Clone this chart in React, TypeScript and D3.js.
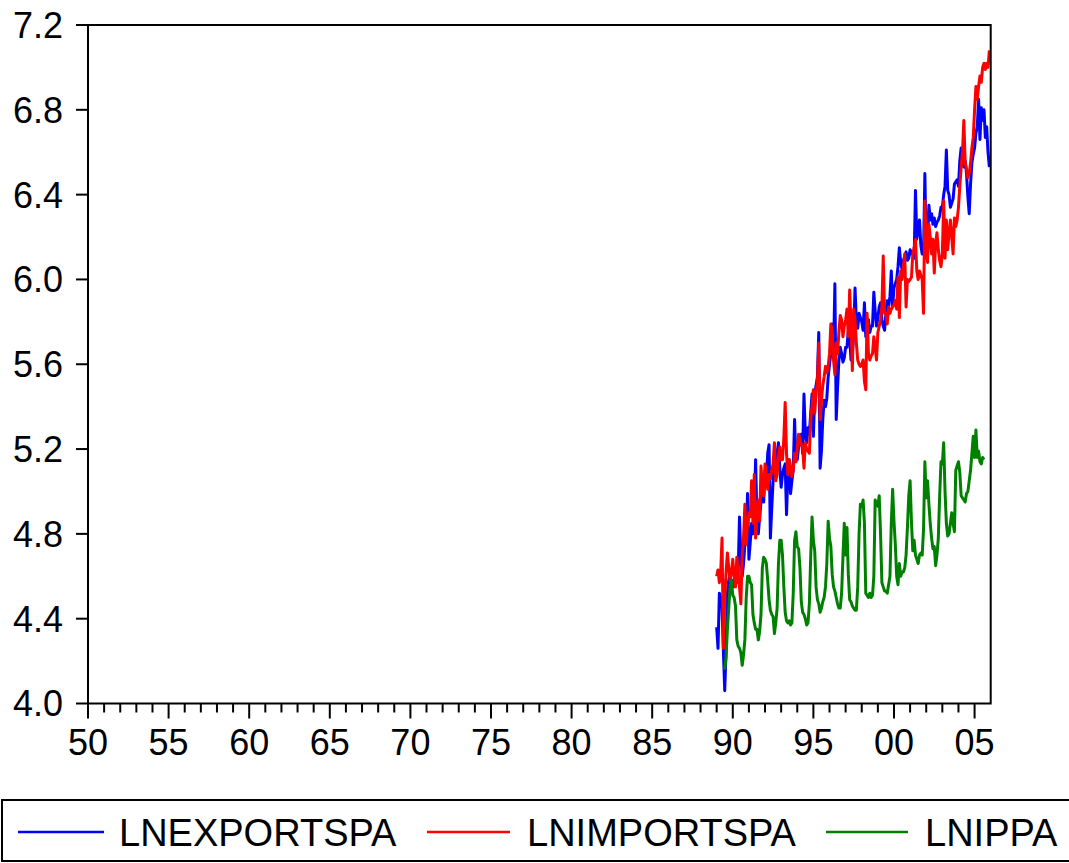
import React from "react";
import * as d3 from "d3";

// Monthly log series.
// exports / imports run 1989M01 - 2005M12, industrial production 1989M07 - 2005M08
const seriesNames = ["LNEXPORTSPA", "LNIMPORTSPA", "LNIPPA"];
const seriesColors = ["#0000ff", "#ff0000", "#008000"];
const seriesStart = [1989, 1989, 1989 + 6 / 12];

const lnExportSpa = [
  4.36, 4.26, 4.52, 4.50, 4.45, 4.25, 4.06, 4.25, 4.52, 4.58, 4.61, 4.56, // 1989
  4.58, 4.55, 4.60, 4.57, 4.62, 4.88, 4.70, 4.60, 4.66, 4.75, 4.78, 4.99,
  4.68, 4.76, 4.85, 4.80, 4.92, 5.15, 4.85, 4.80, 4.88, 4.95, 5.05, 4.95,
  5.10, 5.05, 5.18, 5.22, 4.78, 4.92, 5.05, 5.15, 5.10, 5.18, 5.23, 5.11,
  5.02, 5.08, 5.11, 5.13, 4.89, 5.08, 5.15, 4.99, 5.05, 5.10, 5.34, 5.15,
  5.15, 5.21, 5.24, 5.27, 5.18, 5.46, 5.27, 5.23, 5.30, 5.27, 5.37, 5.46, // 1994
  5.26, 5.46, 5.50, 5.54, 5.75, 5.11, 5.19, 5.34, 5.43, 5.40, 5.44, 5.54,
  5.60, 5.65, 5.79, 5.65, 5.98, 5.34, 5.49, 5.62, 5.68, 5.65, 5.61, 5.63,
  5.68, 5.68, 5.76, 5.73, 5.62, 5.65, 5.74, 5.96, 5.80, 5.77, 5.84, 5.82,
  5.80, 5.76, 5.89, 5.73, 5.75, 5.81, 5.75, 5.78, 5.78, 5.94, 5.85, 5.78,
  5.82, 5.87, 5.89, 5.81, 5.78, 5.76, 5.84, 5.90, 5.87, 5.92, 6.04, 5.87, // 1999
  5.96, 5.98, 6.00, 6.06, 6.15, 6.08, 6.05, 6.09, 6.11, 6.13, 6.09, 6.10,
  6.14, 6.12, 6.13, 6.10, 6.42, 6.19, 6.24, 6.28, 6.16, 6.12, 6.12, 6.50,
  6.12, 6.20, 6.35, 6.28, 6.31, 6.26, 6.29, 6.25, 6.27, 6.28, 6.30, 6.34,
  6.34, 6.40, 6.44, 6.61, 6.42, 6.40, 6.34, 6.36, 6.38, 6.45, 6.46, 6.47,
  6.44, 6.56, 6.62, 6.55, 6.53, 6.56, 6.50, 6.39, 6.31, 6.45, 6.55, 6.59, // 2004
  6.62, 6.69, 6.72, 6.85, 6.66, 6.81, 6.75, 6.80, 6.67, 6.72, 6.60, 6.53,
];

const lnImportSpa = [
  4.60, 4.63, 4.57, 4.62, 4.78, 4.26, 4.50, 4.62, 4.71, 4.64, 4.58, 4.62, // 1989
  4.68, 4.60, 4.55, 4.69, 4.62, 4.55, 4.47, 4.70, 4.78, 4.94, 4.75, 4.85,
  4.90, 4.88, 5.05, 4.85, 5.08, 4.78, 4.90, 4.96, 4.86, 5.12, 5.02, 4.98,
  5.13, 5.08, 5.01, 5.08, 5.06, 5.10, 5.13, 5.23, 5.05, 5.08, 5.16, 5.21,
  5.15, 5.15, 5.25, 5.42, 5.18, 5.08, 5.15, 5.12, 5.07, 5.10, 5.18, 5.14,
  5.20, 5.27, 5.25, 5.22, 5.21, 5.11, 5.23, 5.20, 5.19, 5.18, 5.34, 5.40, // 1994
  5.48, 5.37, 5.46, 5.52, 5.70, 5.34, 5.43, 5.50, 5.54, 5.59, 5.56, 5.59,
  5.65, 5.79, 5.76, 5.62, 5.55, 5.70, 5.65, 5.75, 5.83, 5.81, 5.73, 5.78,
  5.81, 5.86, 5.73, 5.95, 5.79, 5.57, 5.86, 5.81, 5.70, 5.62, 5.60, 5.59,
  5.60, 5.62, 5.52, 5.48, 5.84, 5.65, 5.62, 5.64, 5.65, 5.73, 5.68, 5.62,
  5.75, 5.78, 5.81, 5.87, 6.11, 5.84, 5.84, 5.79, 5.87, 5.84, 5.86, 5.87, // 1999
  5.88, 5.90, 5.86, 6.01, 5.82, 6.04, 6.00, 6.06, 6.12, 5.87, 6.00, 5.99,
  6.00, 6.01, 6.12, 6.15, 6.19, 6.04, 6.00, 6.04, 6.02, 6.00, 5.84, 6.37,
  6.15, 6.08, 6.26, 6.20, 6.12, 6.19, 6.03, 6.17, 6.22, 6.14, 6.09, 6.06,
  6.12, 6.37, 6.10, 6.28, 6.14, 6.22, 6.28, 6.20, 6.12, 6.29, 6.25, 6.28,
  6.34, 6.44, 6.53, 6.60, 6.75, 6.55, 6.52, 6.48, 6.50, 6.55, 6.62, 6.67, // 2004
  6.80, 6.91, 6.85, 6.91, 6.96, 6.93, 7.00, 7.02, 6.99, 7.02, 7.00, 7.08,
];

const lnIpPa = [
  4.16, 4.22, 4.35, 4.45, 4.55, 4.58, // 1989 jul-dec
  4.51, 4.50, 4.46, 4.30, 4.27, 4.26, 4.24, 4.18, 4.23, 4.30, 4.50, 4.60,
  4.60, 4.57, 4.56, 4.42, 4.38, 4.35, 4.35, 4.30, 4.34, 4.42, 4.64, 4.69,
  4.68, 4.66, 4.58, 4.49, 4.44, 4.42, 4.41, 4.33, 4.38, 4.45, 4.66, 4.77,
  4.77, 4.70, 4.55, 4.43, 4.39, 4.38, 4.39, 4.37, 4.38, 4.52, 4.77, 4.81,
  4.74, 4.73, 4.64, 4.48, 4.43, 4.42, 4.40, 4.37, 4.38, 4.47, 4.69, 4.88, // 1994
  4.77, 4.72, 4.55, 4.49, 4.47, 4.43, 4.45, 4.48, 4.50, 4.55, 4.66, 4.86,
  4.78, 4.74, 4.61, 4.55, 4.53, 4.50, 4.47, 4.45, 4.45, 4.52, 4.69, 4.85,
  4.70, 4.83, 4.61, 4.49, 4.48, 4.46, 4.45, 4.44, 4.44, 4.55, 4.80, 4.94,
  4.93, 4.96, 4.85, 4.52, 4.51, 4.50, 4.52, 4.50, 4.51, 4.60, 4.96, 4.94,
  4.93, 4.98, 4.80, 4.57, 4.55, 4.53, 4.53, 4.52, 4.56, 4.60, 4.85, 5.01, // 1999
  4.86, 4.75, 4.60, 4.56, 4.66, 4.60, 4.62, 4.62, 4.64, 4.70, 4.83, 4.98,
  5.05, 4.86, 4.72, 4.77, 4.70, 4.68, 4.66, 4.70, 4.71, 4.70, 4.82, 5.14,
  4.97, 5.05, 4.94, 4.85, 4.78, 4.73, 4.74, 4.65, 4.70, 4.78, 4.98, 5.14,
  5.13, 5.23, 5.00, 4.85, 4.79, 4.80, 4.85, 4.90, 4.85, 4.81, 5.10, 5.12,
  5.14, 5.09, 4.98, 4.97, 4.96, 4.95, 4.99, 5.00, 5.05, 5.10, 5.18, 5.26, // 2004
  5.16, 5.29, 5.16, 5.19, 5.14, 5.13, 5.16, 5.15, // 2005 jan-aug
];

const yTicks = [4.0, 4.4, 4.8, 5.2, 5.6, 6.0, 6.4, 6.8, 7.2];
const xMajorTicks = [1950, 1955, 1960, 1965, 1970, 1975, 1980, 1985, 1990, 1995, 2000, 2005];

const FONT = "'Liberation Sans', Arial, Helvetica, sans-serif";

export default function App() {
  const width = 1069;
  const height = 863;

  // plot frame, matching the EViews graph box
  const left = 88;
  const right = 990.7;
  const top = 25;
  const bottom = 703.5;

  const x = d3.scaleLinear().domain([1950, 2006]).range([left, right]);
  const y = d3.scaleLinear().domain([4.0, 7.2]).range([bottom, top]);

  const line = d3
    .line<[number, number]>()
    .x((d) => x(d[0]))
    .y((d) => y(d[1]));

  const allSeries = [lnExportSpa, lnImportSpa, lnIpPa];
  const paths = allSeries.map((vals, k) =>
    line(vals.map((v, i) => [seriesStart[k] + i / 12, v] as [number, number]))
  );

  const minorYears = d3.range(1950, 2006);

  // legend geometry
  const legendTop = 800;
  const legendH = 61;
  const legendItems = [
    { x1: 18, x2: 104, tx: 119 },
    { x1: 427, x2: 510, tx: 527 },
    { x1: 826, x2: 908, tx: 925 },
  ];

  return (
    <svg
      width={width}
      height={height}
      style={{ position: "absolute", left: 0, top: 0, background: "#fff" }}
      fontFamily={FONT}
    >
      <rect x={0} y={0} width={width} height={height} fill="#fff" />

      {/* series */}
      {paths.map((p, k) => (
        <path
          key={seriesNames[k]}
          d={p || ""}
          fill="none"
          stroke={seriesColors[k]}
          strokeWidth={3}
          strokeLinejoin="round"
        />
      ))}

      {/* frame */}
      <rect
        x={left}
        y={top}
        width={right - left}
        height={bottom - top}
        fill="none"
        stroke="#000"
        strokeWidth={2}
      />

      {/* y axis */}
      {yTicks.map((t) => (
        <g key={t} transform={`translate(0,${y(t)})`}>
          <line x1={left - 12} x2={left} stroke="#000" strokeWidth={2} />
          <text x={63} dy="0.36em" textAnchor="end" fontSize={36} fill="#000">
            {d3.format(".1f")(t)}
          </text>
        </g>
      ))}

      {/* x axis */}
      {minorYears.map((yr) => (
        <line
          key={yr}
          x1={x(yr)}
          x2={x(yr)}
          y1={bottom}
          y2={bottom + (yr % 5 === 0 ? 15 : 9)}
          stroke="#000"
          strokeWidth={2}
        />
      ))}
      {xMajorTicks.map((yr) => (
        <text
          key={yr}
          x={x(yr)}
          y={755}
          textAnchor="middle"
          fontSize={36}
          fill="#000"
        >
          {String(yr % 100).padStart(2, "0")}
        </text>
      ))}

      {/* legend */}
      <rect
        x={2}
        y={legendTop}
        width={1100}
        height={legendH}
        fill="none"
        stroke="#000"
        strokeWidth={2}
      />
      {legendItems.map((it, k) => (
        <g key={seriesNames[k]}>
          <line
            x1={it.x1}
            x2={it.x2}
            y1={legendTop + 32}
            y2={legendTop + 32}
            stroke={seriesColors[k]}
            strokeWidth={2.6}
          />
          <text x={it.tx} y={legendTop + 46} fontSize={38} fill="#000">
            {seriesNames[k]}
          </text>
        </g>
      ))}
    </svg>
  );
}
